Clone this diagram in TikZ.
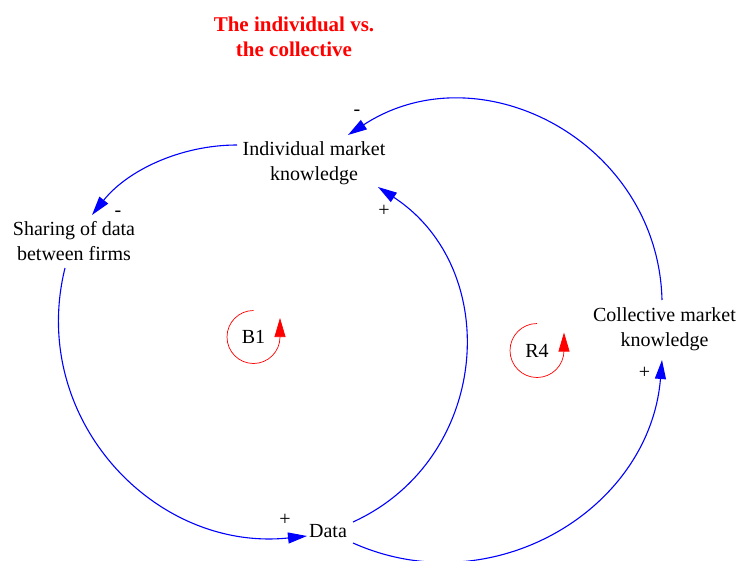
\documentclass[tikz,border=0pt]{standalone}
\usepackage{fontspec}
\setmainfont{Liberation Serif}
\usetikzlibrary{arrows.meta}
\begin{document}
\begin{tikzpicture}[x=1pt,y=1pt,
  var/.style={align=center,inner sep=3pt,font=\fontsize{20}{25}\selectfont},
  sign/.style={inner sep=0pt,font=\fontsize{20}{24}\selectfont},
  looplabel/.style={inner sep=0pt,font=\fontsize{20}{24}\selectfont},
  link/.style={draw=blue,line width=1.1pt,-{Triangle[length=19pt,width=11pt]}},
  loopc/.style={draw=red,line width=0.7pt,-{Triangle[length=19pt,width=11pt]}},
]
\useasboundingbox (0,0) rectangle (738,-561);

% title
\node[align=center,inner sep=0pt,text=red,font=\fontsize{21}{25}\selectfont\bfseries]
  (title) at (294,-37) {The individual vs.\\the collective};

% variables
\node[var] (ind)   at (314,-163)   {Individual market\\knowledge};
\node[var] (share) at (74,-241)    {Sharing of data\\between firms};
\node[var] (coll)  at (664.5,-329.5) {Collective market\\knowledge};
\node[var] (data)  at (328,-531)   {Data};

% causal links
\draw[link] ([shift={(-77,18)}]ind.center) to[out=180,in=51.6,looseness=0.9]
  ([shift={(18,26)}]share.center);
\draw[link] ([shift={(-9,-27)}]share.center) to[out=256.1,in=186,looseness=1.09]
  ([shift={(-21,-5)}]data.center);
\draw[link] ([shift={(25,9)}]data.center) to[out=24.6,in=326.8,looseness=1.15]
  ([shift={(64,-24)}]ind.center);
\draw[link] ([shift={(-2.5,29.5)}]coll.center) to[out=91.4,in=33.1,looseness=1.14]
  ([shift={(34,28)}]ind.center);
\draw[link] ([shift={(25,-12)}]data.center) to[out=335.9,in=265.3,looseness=1.08]
  ([shift={(-2.5,-30.5)}]coll.center);

% polarities
\node[sign,anchor=base] (s1) at (357,-115.4) {-};
\node[sign] (s2) at (384,-211) {+};
\node[sign,anchor=base] (s3) at (118,-216.2) {-};
\node[sign] (s4) at (285,-520) {+};
\node[sign] (s5) at (644.5,-373.3) {+};

% loop markers
\node[looplabel] (b1) at (253.5,-337) {B1};
\draw[loopc] ([yshift=26.5pt]b1.center) arc[start angle=90,end angle=360,radius=26.5] -- ++(0,19);
\node[looplabel] (r4) at (537,-350.5) {R4};
\draw[loopc] ([yshift=27pt]r4.center) arc[start angle=90,end angle=360,radius=27] -- ++(0,18);
\end{tikzpicture}
\end{document}
